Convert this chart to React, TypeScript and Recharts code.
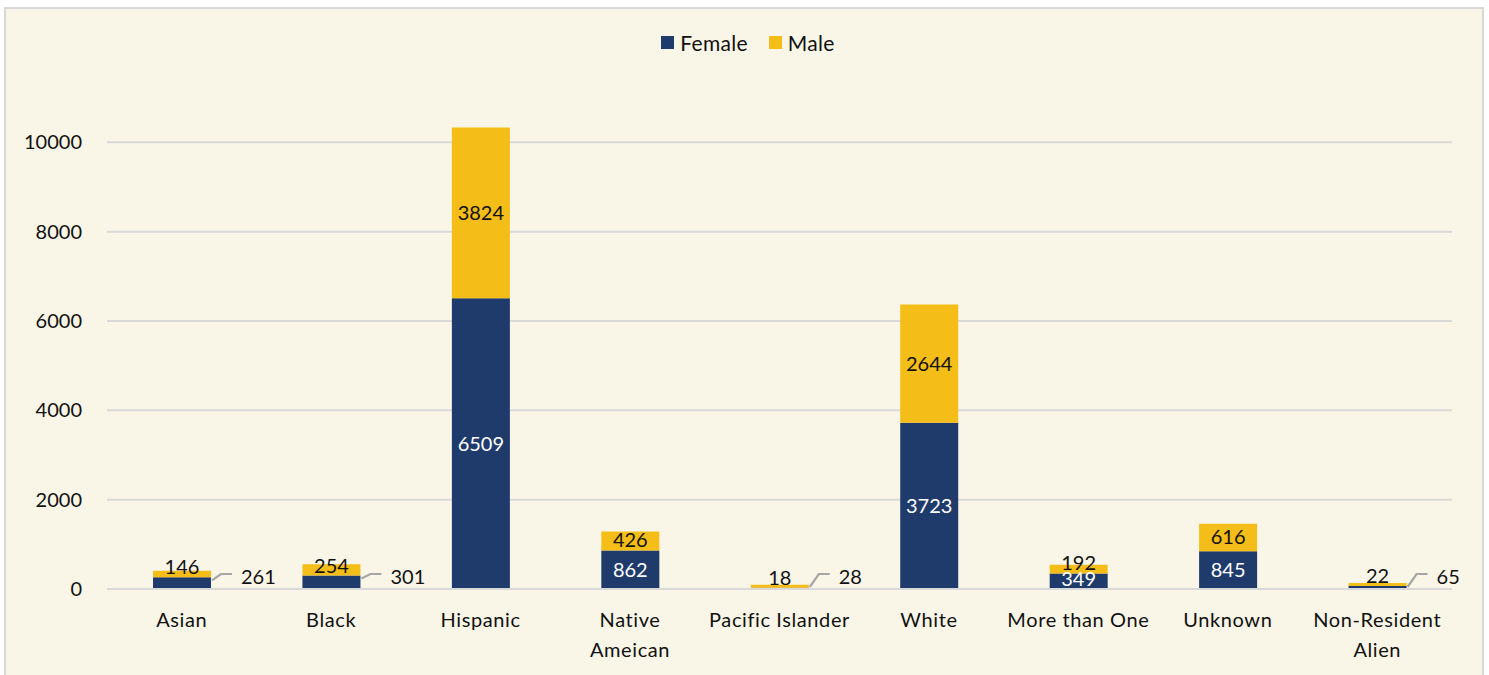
import React from "react";
import { BarChart, Bar, XAxis, YAxis, CartesianGrid, Legend, LabelList } from "recharts";

const categories = [
  "Asian",
  "Black",
  "Hispanic",
  "Native Ameican",
  "Pacific Islander",
  "White",
  "More than One",
  "Unknown",
  "Non-Resident Alien",
];
const tickLines = [
  ["Asian"],
  ["Black"],
  ["Hispanic"],
  ["Native", "Ameican"],
  ["Pacific Islander"],
  ["White"],
  ["More than One"],
  ["Unknown"],
  ["Non-Resident", "Alien"],
];
const female = [261, 301, 6509, 862, 28, 3723, 349, 845, 65];
const male = [146, 254, 3824, 426, 18, 2644, 192, 616, 22];
const yTicks = [0, 2000, 4000, 6000, 8000, 10000];
const outsideFemale = ["Asian", "Black", "Pacific Islander", "Non-Resident Alien"];

const FEMALE_COLOR = "#1F3B6B";
const MALE_COLOR = "#F5BD18";
const FONT = "Lato, 'Open Sans', sans-serif";
const TEXT_COLOR = "#111111";

const data = categories.map((c, i) => ({ category: c, Female: female[i], Male: male[i] }));

function getBox(p: any) {
  const vb = p.viewBox && p.viewBox.width !== undefined ? p.viewBox : p;
  return { x: Number(vb.x), y: Number(vb.y), w: Number(vb.width), h: Number(vb.height) };
}

function labelCenter(y: number, h: number) {
  const bottom = y + h;
  return Math.min(y + h / 2, bottom - 10);
}

const renderMaleLabel = (p: any) => {
  const { x, y, w, h } = getBox(p);
  const cy = labelCenter(y, h);
  return (
    <text x={x + w / 2} y={cy + 7} textAnchor="middle" fontFamily={FONT} fontSize={20} fill={TEXT_COLOR}>
      {p.value}
    </text>
  );
};

const renderFemaleLabel = (p: any) => {
  const { x, y, w, h } = getBox(p);
  const idx = p.index !== undefined ? p.index : female.indexOf(Number(p.value));
  const cat = categories[idx];
  if (outsideFemale.includes(cat)) {
    const right = x + w;
    const bottom = y + h;
    const sy = Math.min(y + 3, bottom - 2);
    const ly = bottom - 15;
    return (
      <g>
        <polyline
          points={`${right + 1},${sy} ${right + 10},${ly} ${right + 21},${ly}`}
          fill="none"
          stroke="#A6A6A6"
          strokeWidth={2.2}
        />
        <text x={right + 30} y={ly + 10} textAnchor="start" fontFamily={FONT} fontSize={20} fill={TEXT_COLOR}>
          {p.value}
        </text>
      </g>
    );
  }
  const cy = labelCenter(y, h);
  return (
    <text x={x + w / 2} y={cy + 7} textAnchor="middle" fontFamily={FONT} fontSize={20} fill="#FFFFFF">
      {p.value}
    </text>
  );
};

const CategoryTick = (p: any) => {
  const { x, y, payload } = p;
  const idx = categories.indexOf(payload.value);
  const lines = idx >= 0 ? tickLines[idx] : [String(payload.value)];
  return (
    <text x={x} y={y + 38} textAnchor="middle" fontFamily={FONT} fontSize={20} fill={TEXT_COLOR} letterSpacing={0.6}>
      {lines.map((l, i) => (
        <tspan key={i} x={x} dy={i === 0 ? 0 : 30}>
          {l}
        </tspan>
      ))}
    </text>
  );
};

const LegendContent = () => (
  <div
    style={{
      display: "flex",
      justifyContent: "center",
      alignItems: "center",
      fontFamily: FONT,
      fontSize: 21,
      color: TEXT_COLOR,
    }}
  >
    {[
      { name: "Female", color: FEMALE_COLOR },
      { name: "Male", color: MALE_COLOR },
    ].map((it, i) => (
      <div key={it.name} style={{ display: "flex", alignItems: "center", marginLeft: i === 0 ? 0 : 21 }}>
        <div style={{ width: 13, height: 13, background: it.color, marginRight: 6 }} />
        <span style={{ letterSpacing: 0.3 }}>{it.name}</span>
      </div>
    ))}
  </div>
);

export default function App() {
  return (
    <div
      style={{
        position: "absolute",
        left: 4,
        top: 7,
        width: 1476,
        height: 666,
        borderTop: "2px solid #D9D9D9",
        borderLeft: "2px solid #D9D9D9",
        borderRight: "2px solid #D9D9D9",
        background: "#FAF6E7",
      }}
    >
      <BarChart
        width={1476}
        height={666}
        data={data}
        margin={{ top: 111, right: 30, bottom: 26, left: 11 }}
        barSize={58}
      >
        <CartesianGrid
          vertical={false}
          horizontalValues={yTicks}
          stroke="#D9D9D9"
          strokeWidth={2}
        />
        <XAxis
          dataKey="category"
          axisLine={{ stroke: "#D9D9D9", strokeWidth: 2 }}
          tickLine={false}
          tickSize={0}
          tickMargin={0}
          height={60}
          interval={0}
          tick={<CategoryTick />}
        />
        <YAxis
          domain={[0, 10500]}
          ticks={yTicks}
          width={90}
          axisLine={false}
          tickLine={false}
          tickSize={0}
          tickMargin={25}
          tick={{ fontFamily: FONT, fontSize: 20, fill: TEXT_COLOR }}
        />
        <Legend
          verticalAlign="middle"
          align="center"
          layout="horizontal"
          wrapperStyle={{ top: 21, left: 4, width: 1476 }}
          content={<LegendContent />}
        />
        <Bar dataKey="Female" stackId="a" fill={FEMALE_COLOR} isAnimationActive={false}>
          <LabelList dataKey="Female" content={renderFemaleLabel} />
        </Bar>
        <Bar dataKey="Male" stackId="a" fill={MALE_COLOR} minPointSize={3} isAnimationActive={false}>
          <LabelList dataKey="Male" content={renderMaleLabel} />
        </Bar>
      </BarChart>
    </div>
  );
}
